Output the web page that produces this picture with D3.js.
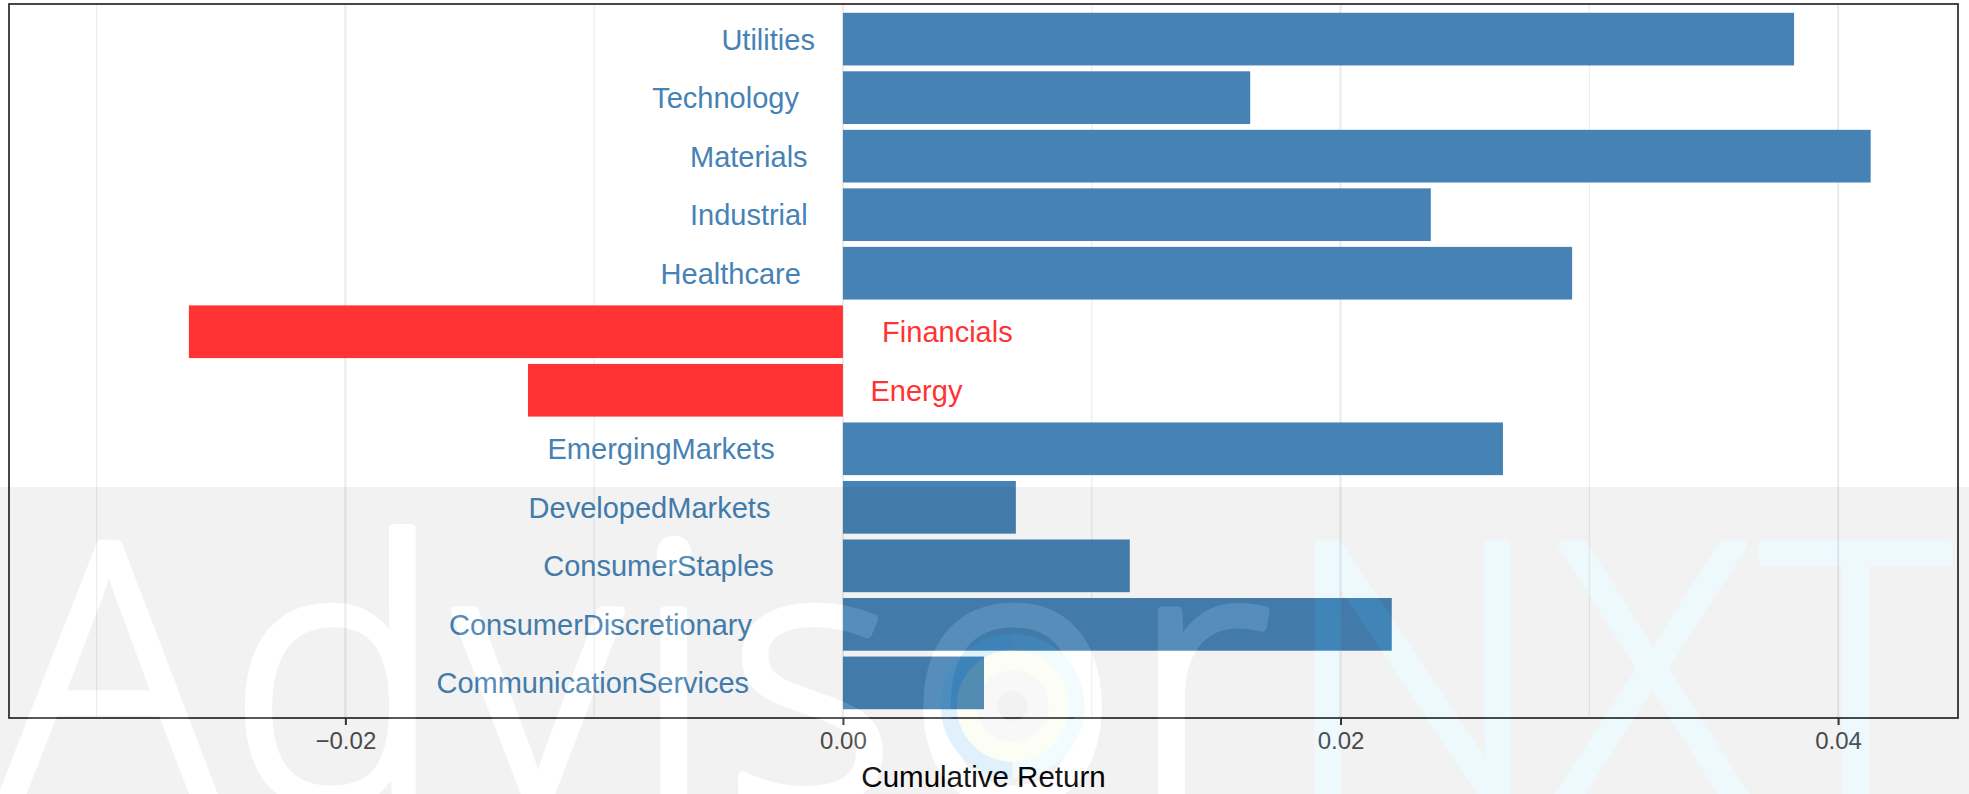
<!DOCTYPE html>
<html>
<head>
<meta charset="utf-8">
<script src="https://cdn.jsdelivr.net/npm/d3@7"></script>
<style>
  html, body { margin: 0; padding: 0; background: #fff; }
  svg { display: block; font-family: "Liberation Sans", Arial, sans-serif; }
</style>
</head>
<body>
<div id="chart"></div>
<script>
// values (top to bottom)
const sectors = ["Utilities", "Technology", "Materials", "Industrial", "Healthcare", "Financials",
  "Energy", "EmergingMarkets", "DevelopedMarkets", "ConsumerStaples", "ConsumerDiscretionary",
  "CommunicationServices"]
const returns = [0.03823, 0.01637, 0.04131, 0.02363, 0.02931, -0.02629,
  -0.01266, 0.02653, 0.00695, 0.01153, 0.02206, 0.00567]
const majorTicks = [-0.02, 0, 0.02, 0.04]
const minorTicks = [-0.03, -0.01, 0.01, 0.03]
const xTitle = "Cumulative Return"
const watermarkParts = ["Advis", "o", "r", "NXT"]

const width = 1969, height = 794
const panel = { left: 9, right: 1958, top: 4, bottom: 718 }
const posColor = "#4682b4", negColor = "#ff3333"

const data = sectors.map((s, i) => ({ name: s, value: returns[i] }))

const svg = d3.select("#chart").append("svg")
  .attr("width", width)
  .attr("height", height)

svg.append("rect").attr("width", width).attr("height", height).attr("fill", "#fff")

//scales
const x = d3.scaleLinear()
  .domain([-0.03352, 0.04482])
  .range([panel.left, panel.right])

const y = d3.scaleBand()
  .domain(sectors)
  .range([panel.top, panel.bottom])
  .paddingInner(0.1)
  .paddingOuter(0.15)

//grid lines
svg.append("g").selectAll("line")
  .data(minorTicks).enter().append("line")
  .attr("x1", d => x(d)).attr("x2", d => x(d))
  .attr("y1", panel.top).attr("y2", panel.bottom)
  .attr("stroke", "#ebebeb").attr("stroke-width", 1.1)

svg.append("g").selectAll("line")
  .data(majorTicks).enter().append("line")
  .attr("x1", d => x(d)).attr("x2", d => x(d))
  .attr("y1", panel.top).attr("y2", panel.bottom)
  .attr("stroke", "#ebebeb").attr("stroke-width", 2.2)

//bars
svg.append("g").selectAll("rect")
  .data(data).enter().append("rect")
  .attr("x", d => x(Math.min(0, d.value)))
  .attr("width", d => Math.abs(x(d.value) - x(0)))
  .attr("y", d => y(d.name))
  .attr("height", y.bandwidth())
  .attr("fill", d => d.value < 0 ? negColor : posColor)

//labels sit at zero, pushed away by 30% of their own width (hjust 1.3 / -0.3)
svg.append("g").selectAll("text")
  .data(data).enter().append("text")
  .attr("y", d => y(d.name) + y.bandwidth() / 2)
  .attr("dy", "0.36em")
  .attr("font-size", 29)
  .attr("fill", d => d.value < 0 ? negColor : posColor)
  .attr("text-anchor", d => d.value < 0 ? "start" : "end")
  .text(d => d.name)
  .each(function (d) {
    const w = this.getComputedTextLength()
    d3.select(this).attr("x", x(0) + (d.value < 0 ? 0.3 * w : -0.3 * w))
  })

//panel border
svg.append("rect")
  .attr("x", panel.left).attr("y", panel.top)
  .attr("width", panel.right - panel.left)
  .attr("height", panel.bottom - panel.top)
  .attr("fill", "none")
  .attr("stroke", "#333333")
  .attr("stroke-width", 1.8)

//x axis
const xAxis = svg.append("g")
  .attr("transform", "translate(0," + panel.bottom + ")")
  .call(d3.axisBottom(x).tickValues(majorTicks).tickFormat(d3.format(".2f")).tickSize(7).tickPadding(7))
xAxis.select(".domain").remove()
xAxis.selectAll(".tick line").attr("stroke", "#333333").attr("stroke-width", 2)
xAxis.selectAll(".tick text")
  .attr("fill", "#4d4d4d")
  .attr("font-size", 24)
  .attr("font-family", "Liberation Sans, Arial, sans-serif")

svg.append("text")
  .attr("x", (panel.left + panel.right) / 2)
  .attr("y", 787)
  .attr("text-anchor", "middle")
  .attr("font-size", 29.5)
  .attr("fill", "#000")
  .text(xTitle)

/* ______________________ watermark overlay ______________________ */
const wmTop = 487, wmBase = 802, wmSize = 360, wmStroke = 9
const defs = svg.append("defs")
const mask = defs.append("mask").attr("id", "wmMask")
mask.append("rect").attr("x", 0).attr("y", 0).attr("width", width).attr("height", height).attr("fill", "#fff")

//one text per layer; parts not belonging to the layer are left unpainted
function wmText(sel, color, show) {
  const t = sel.append("text")
    .attr("x", 0).attr("y", wmBase)
    .attr("font-family", "'Open Sans', Lato, sans-serif")
    .attr("font-weight", 300)
    .attr("font-size", wmSize)
    .attr("textLength", 1950)
    .attr("lengthAdjust", "spacing")
    .attr("stroke-width", wmStroke)
    .attr("stroke-linejoin", "round")
  watermarkParts.forEach((p, i) => {
    const on = show(i)
    t.append("tspan")
      .attr("fill", on ? color : "none")
      .attr("stroke", on ? color : "none")
      .text(p)
  })
  return t
}

wmText(mask, "#000", () => true)

const wm = svg.append("g").attr("pointer-events", "none")
wm.append("rect")
  .attr("x", 0).attr("y", wmTop)
  .attr("width", width).attr("height", height - wmTop)
  .attr("fill", "#000").attr("fill-opacity", 0.052)
  .attr("mask", "url(#wmMask)")

const whiteLayer = wm.append("g").attr("opacity", 0.09)
const txt = wmText(whiteLayer, "#fff", i => i < 3)
const cyanLayer = wm.append("g").attr("opacity", 0.065)
wmText(cyanLayer, "rgb(0,170,235)", i => i === 3)

//logo rings inside the "o"
const oBox = txt.node().getExtentOfChar(5)
const cx = oBox.x + oBox.width / 2
const cy = wmBase - 0.267 * wmSize
const rings = [
  { r0: 15, r1: 36, a0: 0, a1: 2 * Math.PI, fill: "#c8c8c8", op: 0.12 },
  { r0: 36, r1: 56, a0: 0, a1: 2 * Math.PI, fill: "rgb(220,245,150)", op: 0.09 },
  { r0: 56, r1: 72, a0: Math.PI, a1: 2 * Math.PI, fill: "rgb(0,140,220)", op: 0.12 },
  { r0: 56, r1: 72, a0: 0, a1: Math.PI, fill: "rgb(0,170,235)", op: 0.05 }
]
const ringArc = d3.arc()
mask.append("circle").attr("cx", cx).attr("cy", cy).attr("r", 72).attr("fill", "#000")
mask.append("circle").attr("cx", cx).attr("cy", cy).attr("r", 15).attr("fill", "#fff")
wm.append("g").attr("transform", "translate(" + cx + "," + cy + ")")
  .selectAll("path").data(rings).enter().append("path")
  .attr("d", d => ringArc({ innerRadius: d.r0, outerRadius: d.r1, startAngle: d.a0, endAngle: d.a1 }))
  .attr("fill", d => d.fill)
  .attr("fill-opacity", d => d.op)
</script>
</body>
</html>
